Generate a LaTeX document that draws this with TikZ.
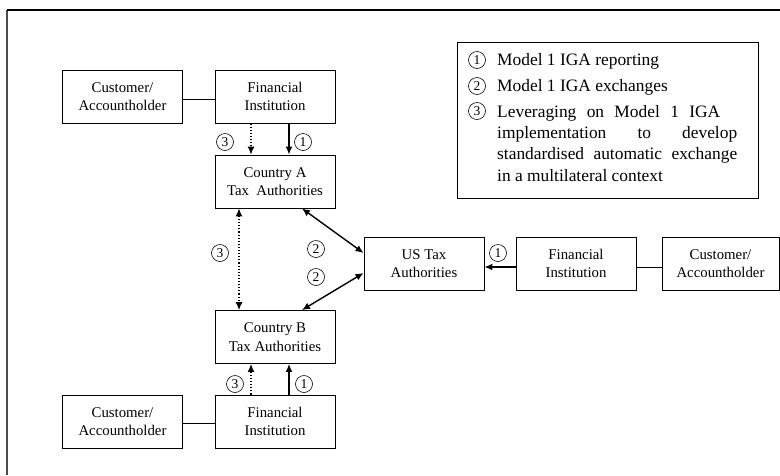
\documentclass[tikz,border=0pt]{standalone}
\usepackage{fontspec}
\setmainfont{Liberation Serif}
\usetikzlibrary{arrows.meta}
\begin{document}
\begin{tikzpicture}[x=1pt,y=-1pt,
 box/.style={draw,line width=0.9pt,minimum width=120pt,minimum height=53pt,inner sep=0pt,align=center,font=\fontsize{14.8}{18.5}\selectfont},
 link/.style={line width=1pt},
 solidarr/.style={line width=1.4pt,-{Latex[length=8pt,width=7pt]}},
 dotarr/.style={line width=1.1pt,dotted,-{Latex[length=8pt,width=7pt]}},
 dblarr/.style={line width=1.4pt,{Latex[length=8pt,width=7pt]}-{Latex[length=8pt,width=7pt]}},
 dbldot/.style={line width=1.1pt,dotted,{Latex[length=8pt,width=7pt]}-{Latex[length=8pt,width=7pt]}},
 circ/.style={draw,circle,line width=0.6pt,minimum size=17pt,inner sep=0pt,font=\fontsize{13.5}{13.5}\selectfont},
 legtext/.style={anchor=base west,inner sep=0pt,font=\fontsize{17.4}{20}\selectfont}]
\useasboundingbox (0,0) rectangle (780,475);
% frame
\draw[gray!60!black,line width=1.5pt] (7,475) -- (7,10);
\draw[line width=1.3pt] (7,10) -- (780,10);
% boxes
\node[box] (custA) at (122.5,96.5) {Customer/\\Accountholder};
\node[box] (fiA) at (275,96.5) {Financial\\Institution};
\node[box] (cA) at (275,181.5) {Country A\\Tax\ \ Authorities};
\node[box] (cB) at (275,337) {Country B\\Tax Authorities};
\node[box] (fiB) at (275,421.5) {Financial\\Institution};
\node[box] (custB) at (122.5,421.5) {Customer/\\Accountholder};
\node[box] (us) at (424,263.5) {US Tax\\Authorities};
\node[box] (fiUS) at (576,263.5) {Financial\\Institution};
\node[box,minimum width=117pt] (custUS) at (720.5,263.5) {Customer/\\Accountholder};
% connectors
\draw[link] ([yshift=-2.5pt]custA.east) -- ([yshift=-2.5pt]fiA.west);
\draw[link] ([yshift=-1.5pt]custB.east) -- ([yshift=-1.5pt]fiB.west);
\draw[link] ([yshift=-3.5pt]custUS.west) -- ([yshift=-3.5pt]fiUS.east);
\draw[solidarr] ([xshift=14pt]fiA.south) -- ([xshift=14pt]cA.north);
\draw[dotarr] ([xshift=-24pt]fiA.south) -- ([xshift=-24pt]cA.north);
\draw[solidarr] ([xshift=14pt]fiB.north) -- ([xshift=14pt]cB.south);
\draw[dotarr] ([xshift=-24pt]fiB.north) -- ([xshift=-24pt]cB.south);
\draw[dbldot] ([xshift=-36pt]cA.south) -- ([xshift=-36pt]cB.north);
\draw[dblarr] ([xshift=27pt]cA.south) -- ([yshift=10.5pt]us.west);
\draw[dblarr] ([xshift=27pt]cB.north) -- ([yshift=-9.5pt]us.west);
\draw[solidarr] ([yshift=-3.5pt]fiUS.west) -- ([yshift=-3.5pt]us.east);
% labels
\node[circ] (l3a) at (225,142) {3};
\node[circ] (l1a) at (303,142) {1};
\node[circ] (l3m) at (220,253) {3};
\node[circ] (l2a) at (316,249) {2};
\node[circ] (l2b) at (316,277) {2};
\node[circ] (l1us) at (498,253) {1};
\node[circ] (l3b) at (235,384) {3};
\node[circ] (l1b) at (304,384) {1};
% legend
\node[draw,line width=1pt,minimum width=301pt,minimum height=156pt,inner sep=0pt] (legend) at (607.5,120) {};
\node[circ] (k1) at (477,60) {1};
\node[circ] (k2) at (477,86) {2};
\node[circ] (k3) at (477,111) {3};
\node[legtext] (t1) at (497,65) {Model 1 IGA reporting};
\node[legtext] (t2) at (497,91) {Model 1 IGA exchanges};
\node[legtext] (t3) at (497,117) {\makebox[223pt][s]{Leveraging on Model 1 IGA}};
\node[legtext] (t4) at (497,138) {\makebox[240pt][s]{implementation to develop}};
\node[legtext] (t5) at (497,159) {\makebox[240pt][s]{standardised automatic exchange}};
\node[legtext] (t6) at (497,181) {in a multilateral context};
\end{tikzpicture}
\end{document}
